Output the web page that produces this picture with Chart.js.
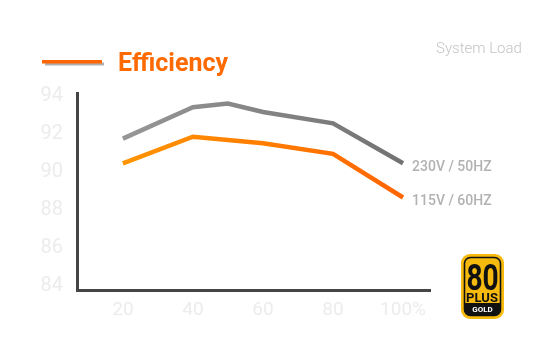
<!DOCTYPE html>
<html>
<head>
<meta charset="utf-8">
<script src="https://cdn.jsdelivr.net/npm/chart.js@4"></script>
<style>
  html, body { margin: 0; padding: 0; background: #fff; }
  #wrap { position: relative; width: 550px; height: 360px; }
</style>
</head>
<body>
<div id="wrap"><canvas id="effChart" width="550" height="360"></canvas></div>
<script>
// System load (%) and efficiency (%)
const load230 = [20, 40, 50, 60, 80, 100];
const eff230 = [91.6, 93.25, 93.45, 93.0, 92.4, 90.3];
const load115 = [20, 40, 60, 80, 100];
const eff115 = [90.3, 91.7, 91.35, 90.8, 88.5];
const xTicks = [20, 40, 60, 80, 100];
const yTicks = [84, 86, 88, 90, 92, 94];
const seriesLabels = ['230V / 50HZ', '115V / 60HZ'];

function toPoints(xs, ys) {
    return xs.map((x, i) => ({ x: x, y: ys[i] }));
}

function gradient(ctx, area, from, to) {
    const g = ctx.createLinearGradient(area.left, 0, area.right, 0);
    g.addColorStop(0, from);
    g.addColorStop(1, to);
    return g;
}

// Title, legend stroke, series labels and the 80 PLUS badge
const decorations = {
    id: 'decorations',
    afterDraw(chart) {
        const ctx = chart.ctx;
        ctx.save();

        // legend stroke with its shadow
        ctx.fillStyle = '#b0b0b0';
        ctx.fillRect(45, 62.5, 59, 3);
        ctx.fillStyle = '#ff6600';
        ctx.fillRect(42, 60, 60, 3.5);

        ctx.fillStyle = '#ff6a00';
        ctx.font = 'bold 25px Roboto';
        ctx.textBaseline = 'alphabetic';
        ctx.fillText('Efficiency', 118, 71);

        ctx.fillStyle = '#c4c4c4';
        ctx.font = '300 15px Roboto';
        ctx.fillText('System Load', 436, 52.5);

        // labels at the end of each line
        ctx.font = '500 14px Roboto';
        ctx.fillStyle = '#b2b2b2';
        chart.data.datasets.forEach((ds, i) => {
            const meta = chart.getDatasetMeta(i);
            const last = meta.data[meta.data.length - 1];
            ctx.fillText(seriesLabels[i], last.x + 9, last.y + 8);
        });

        // 80 PLUS GOLD badge
        ctx.fillStyle = '#f6b90d';
        ctx.beginPath();
        ctx.roundRect(461, 254, 43, 65, 9);
        ctx.fill();
        ctx.strokeStyle = '#111';
        ctx.lineWidth = 1.6;
        ctx.beginPath();
        ctx.roundRect(464.5, 257.5, 36, 58, 6);
        ctx.stroke();
        ctx.fillStyle = '#111';
        ctx.beginPath();
        ctx.roundRect(464.5, 303, 36, 12.5, [0, 0, 6, 6]);
        ctx.fill();
        ctx.textAlign = 'center';
        ctx.save();
        ctx.translate(482.5, 290);
        ctx.scale(0.78, 1);
        ctx.font = 'bold 36px Roboto';
        ctx.fillText('80', 0, 0);
        ctx.restore();
        ctx.font = 'bold 13px Roboto';
        ctx.fillText('PLUS', 482, 301.5);
        ctx.fillStyle = '#fff';
        ctx.font = 'bold 8px Roboto';
        ctx.fillText('GOLD', 482.5, 312);

        ctx.restore();
    }
};

const ctx = document.getElementById('effChart').getContext('2d');
new Chart(ctx, {
    type: 'line',
    data: {
        datasets: [{
            label: seriesLabels[0],
            data: toPoints(load230, eff230),
            borderColor: c => c.chart.chartArea ? gradient(c.chart.ctx, c.chart.chartArea, '#9c9c9c', '#6f6f6f') : '#888',
            borderWidth: 4.5,
            pointRadius: 0,
            tension: 0
        }, {
            label: seriesLabels[1],
            data: toPoints(load115, eff115),
            borderColor: c => c.chart.chartArea ? gradient(c.chart.ctx, c.chart.chartArea, '#ff9c00', '#ff6000') : '#ff7f00',
            borderWidth: 4.5,
            pointRadius: 0,
            tension: 0
        }]
    },
    options: {
        responsive: false,
        animation: false,
        layout: { padding: { top: 93, right: 120, left: 0, bottom: 0 } },
        plugins: {
            legend: { display: false },
            tooltip: { enabled: false }
        },
        scales: {
            x: {
                type: 'linear',
                min: 6.9,
                max: 107.7,
                afterBuildTicks: s => { s.ticks = xTicks.map(v => ({ value: v })); },
                afterFit: s => { s.height = 70; },
                grid: { display: false, drawTicks: false },
                border: { color: '#454545', width: 3 },
                ticks: {
                    color: '#ececec',
                    font: { family: 'Roboto', size: 19 },
                    padding: 9,
                    callback: v => v === 100 ? '100%' : v
                }
            },
            y: {
                min: 83.63,
                max: 94,
                afterBuildTicks: s => { s.ticks = yTicks.map(v => ({ value: v })); },
                afterFit: s => { s.width = 77; },
                grid: { display: false, drawTicks: false },
                border: { color: '#454545', width: 3 },
                ticks: {
                    color: '#ececec',
                    font: { family: 'Roboto', size: 20 },
                    padding: 14,
                    labelOffset: 3
                }
            }
        }
    },
    plugins: [decorations]
});
</script>
</body>
</html>
